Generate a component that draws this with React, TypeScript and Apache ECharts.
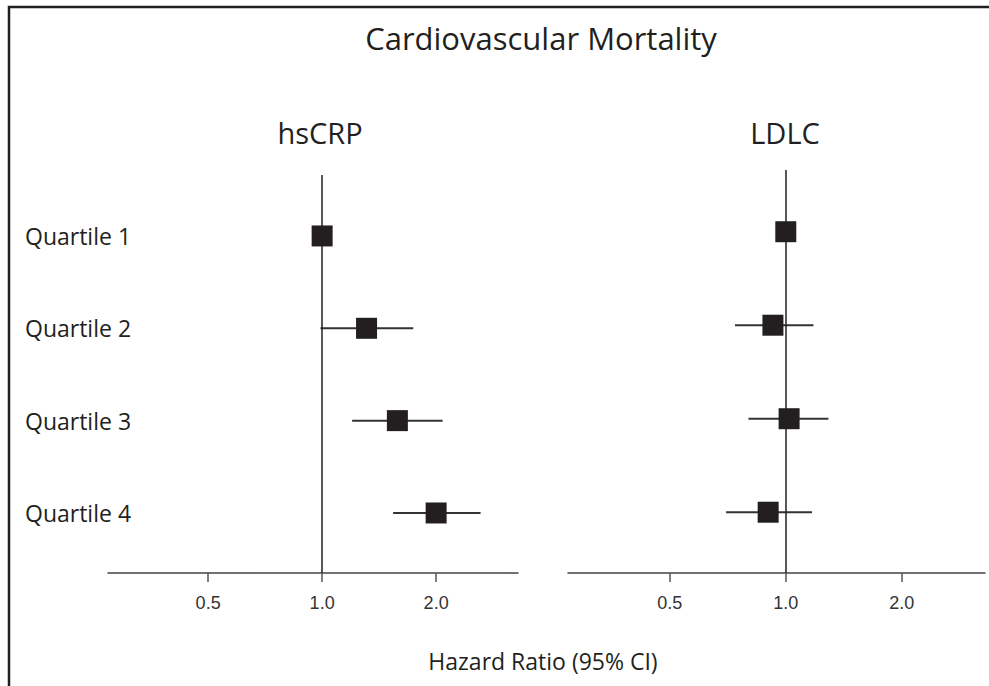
import { useEffect, useRef } from 'react';
import * as echarts from 'echarts';

const quartiles = ['Quartile 1', 'Quartile 2', 'Quartile 3', 'Quartile 4'];
const rows = [1, 2, 3, 4];
const hsCRP_HR = [1.0, 1.31, 1.58, 2.0];
const hsCRP_lo = [1.0, 0.99, 1.2, 1.54];
const hsCRP_hi = [1.0, 1.74, 2.08, 2.62];
const ldlc_HR = [1.0, 0.926, 1.02, 0.9];
const ldlc_lo = [1.0, 0.738, 0.8, 0.7];
const ldlc_hi = [1.0, 1.18, 1.29, 1.17];
const xTicks = [0.5, 1, 2];
const panelTitles = ['hsCRP', 'LDLC'];

const INK = '#231f20';
const FONT = '"Open Sans", "Noto Sans", sans-serif';

function makeX(gridIndex: number) {
  return {
    type: 'log',
    logBase: 2,
    gridIndex,
    min: 0.272,
    max: 3.29,
    position: 'bottom',
    axisLine: { show: true, lineStyle: { color: '#444', width: 1.5 } },
    axisTick: { show: true, customValues: xTicks, length: 9, lineStyle: { color: '#555', width: 1.5 } },
    axisLabel: {
      show: true,
      customValues: xTicks,
      formatter: (v: number) => Number(v).toFixed(1),
      margin: 21,
      fontFamily: '"Liberation Sans", Arial, sans-serif',
      fontSize: 18,
      color: '#333',
    },
    splitLine: { show: false },
  };
}

function makeY(gridIndex: number, showLabels: boolean) {
  return {
    type: 'value',
    gridIndex,
    inverse: true,
    min: 0.34,
    max: 4.65,
    axisLine: { show: false },
    axisTick: { show: false },
    splitLine: { show: false },
    axisLabel: {
      show: showLabels,
      customValues: rows,
      formatter: (v: number) => quartiles[Math.round(v) - 1] ?? '',
      align: 'left',
      margin: 83,
      fontFamily: FONT,
      fontSize: 23,
      color: INK,
    },
  };
}

function panelSeries(idx: number, hr: number[], lo: number[], hi: number[]) {
  return [
    {
      type: 'custom',
      xAxisIndex: idx,
      yAxisIndex: idx,
      z: 2,
      encode: { x: [0, 1], y: 2 },
      data: rows.map((r, i) => [lo[i], hi[i], r]),
      renderItem: (_p: any, api: any) => {
        const a = api.coord([api.value(0), api.value(2)]);
        const b = api.coord([api.value(1), api.value(2)]);
        return {
          type: 'line',
          shape: { x1: a[0], y1: a[1], x2: b[0], y2: b[1] },
          style: { stroke: '#333', lineWidth: 2 },
        };
      },
      markLine: {
        silent: true,
        symbol: 'none',
        label: { show: false },
        lineStyle: { color: INK, width: 1.5, type: 'solid' },
        data: [{ xAxis: 1 }],
      },
    },
    {
      type: 'scatter',
      xAxisIndex: idx,
      yAxisIndex: idx,
      z: 3,
      symbol: 'rect',
      symbolSize: 21,
      itemStyle: { color: INK, opacity: 1 },
      data: rows.map((r, i) => [hr[i], r]),
    },
  ];
}

export default function App() {
  const ref = useRef<HTMLDivElement>(null);
  useEffect(() => {
    if (!ref.current) return;
    const chart = echarts.init(ref.current, undefined, { renderer: 'svg' });
    chart.setOption({
      animation: false,
      backgroundColor: '#ffffff',
      grid: [
        { left: 108, width: 410, top: 175, height: 398 },
        { left: 568, width: 417, top: 170, height: 403 },
      ],
      xAxis: [makeX(0), makeX(1)],
      yAxis: [makeY(0, true), makeY(1, false)],
      series: [
        ...panelSeries(0, hsCRP_HR, hsCRP_lo, hsCRP_hi),
        ...panelSeries(1, ldlc_HR, ldlc_lo, ldlc_hi),
      ],
      graphic: [
        {
          type: 'rect',
          shape: { x: 9, y: 7, width: 1100, height: 800 },
          style: { fill: 'none', stroke: INK, lineWidth: 2.5 },
          silent: true,
        },
        {
          type: 'text',
          x: 541,
          y: 38,
          style: { text: 'Cardiovascular Mortality', align: 'center', verticalAlign: 'middle', font: `31px ${FONT}`, fill: INK },
        },
        {
          type: 'text',
          x: 320,
          y: 132,
          style: { text: panelTitles[0], align: 'center', verticalAlign: 'middle', font: `29px ${FONT}`, fill: INK },
        },
        {
          type: 'text',
          x: 785,
          y: 132,
          style: { text: panelTitles[1], align: 'center', verticalAlign: 'middle', font: `29px ${FONT}`, fill: INK },
        },
        {
          type: 'text',
          x: 543,
          y: 661,
          style: { text: 'Hazard Ratio (95% CI)', align: 'center', verticalAlign: 'middle', font: `23px ${FONT}`, fill: INK },
        },
      ],
    });
    return () => chart.dispose();
  }, []);
  return (
    <div
      ref={ref}
      style={{ position: 'absolute', left: 0, top: 0, width: 989, height: 686 }}
    />
  );
}
